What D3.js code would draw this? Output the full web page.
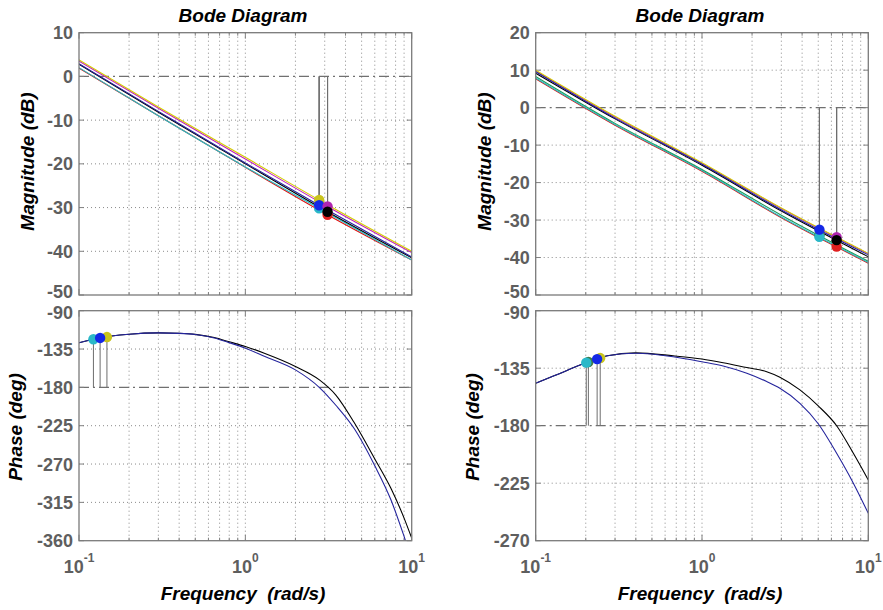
<!DOCTYPE html>
<html>
<head>
<meta charset="utf-8">
<script src="https://cdn.jsdelivr.net/npm/d3@7"></script>
<style>
  body { margin: 0; background: #fff; }
  svg { display: block; }
</style>
</head>
<body>
<svg id="chart" width="883" height="610"></svg>
<script>
// ---------- data: left system family ----------
const magFreqL = [0.1, 0.3, 1, 3, 10];
const magYellowL  = [3.8, -7.0, -18.5, -29.0, -40.0];
const magMagentaL = [3.5, -7.3, -18.9, -29.4, -40.3];
const magBlackL   = [2.8, -8.2, -20.0, -30.6, -41.5];
const magBlueL    = [2.9, -8.0, -19.8, -30.2, -41.3];
const magRedL     = [1.9, -9.0, -20.8, -31.3, -42.0];
const magCyanL    = [2.0, -9.0, -20.7, -30.9, -42.0];

const phaseFreqL  = [0.1, 0.13, 0.2, 0.3, 0.4, 0.5, 0.65, 0.8, 1, 1.3, 2, 2.8, 3.5, 4.5, 6, 7.5, 9, 10];
const phaseBlueL  = [-127.6, -122.3, -117.6, -116.0, -116.6, -118.0, -122.0, -127.5, -134.0, -143.5, -159.5, -180.5, -201, -228, -272, -312, -355, -382];
const phaseBlackL = [-127.6, -122.3, -117.6, -116.0, -116.5, -117.8, -121.5, -126.5, -132.0, -140.0, -155.5, -171.5, -189, -221, -264, -298.5, -333.5, -357];

// ---------- data: right system family ----------
const magFreqR = [0.1, 0.3, 1, 3, 10];
const magYellowR  = [10.0, -2.3, -14.7, -26.8, -38.9];
const magMagentaR = [9.8, -2.5, -14.9, -26.9, -39.0];
const magBlueR    = [9.6, -2.8, -15.1, -27.3, -39.3];
const magBlackR   = [9.2, -3.0, -15.4, -27.6, -39.8];
const magGreenR   = [8.3, -4.2, -16.5, -28.7, -41.0];
const magCyanR    = [7.9, -4.5, -16.8, -29.2, -41.3];
const magRedR     = [7.7, -4.7, -17.0, -29.4, -41.5];

const phaseFreqR  = [0.1, 0.13, 0.2, 0.27, 0.4, 0.67, 1, 1.34, 1.86, 2.45, 2.94, 3.88, 5, 6.45, 8.13, 10];
const phaseBlueR  = [-146.8, -140.8, -130.8, -125.2, -123.3, -126.0, -130.0, -133.3, -139.0, -145.5, -150.7, -162.5, -178.5, -201.6, -225.0, -248.6];
const phaseBlackR = [-146.8, -140.8, -130.8, -125.2, -123.0, -125.3, -127.8, -130.7, -134.5, -137.7, -142.0, -152.0, -164.5, -180.0, -201.6, -222.5];

// ---------- tick labels ----------
const magTicksL   = [10, 0, -10, -20, -30, -40, -50];
const phaseTicksL = [-90, -135, -180, -225, -270, -315, -360];
const magTicksR   = [20, 10, 0, -10, -20, -30, -40, -50];
const phaseTicksR = [-90, -135, -180, -225, -270];
const freqTicks   = [0.1, 1, 10];
const freqExpLabels = ["-1", "0", "1"];

const titleText = "Bode Diagram";
const magLabel = "Magnitude (dB)";
const phaseLabel = "Phase (deg)";
const freqLabel = "Frequency  (rad/s)";

// ---------- colours ----------
const lineColor = {
  yellow: "#d4cc00", magenta: "#c020c0", black: "#000000", blue: "#24249c",
  red: "#e01010", cyan: "#22c0c8", green: "#1e9a60"
};
const dotColor = {
  yellow: "#c9c41c", magenta: "#b025b0", black: "#000000", blue: "#1428e6",
  red: "#e02020", cyan: "#2ab8c8", green: "#3c7a4a"
};

// ---------- helpers ----------
function interpLog(freqs, vals, f) {
  const lf = Math.log10(f);
  for (let i = 0; i < freqs.length - 1; i++) {
    const a = Math.log10(freqs[i]), b = Math.log10(freqs[i + 1]);
    if (lf >= a && lf <= b) {
      const t = (lf - a) / (b - a);
      return vals[i] + t * (vals[i + 1] - vals[i]);
    }
  }
  return vals[vals.length - 1];
}
function crossing(freqs, vals, level) {
  for (let i = 0; i < freqs.length - 1; i++) {
    const u = vals[i] - level, v = vals[i + 1] - level;
    if (u === 0) return freqs[i];
    if (u * v < 0) {
      const a = Math.log10(freqs[i]), b = Math.log10(freqs[i + 1]);
      return Math.pow(10, a + (u / (u - v)) * (b - a));
    }
  }
  return null;
}
const zip = (fs, vs) => fs.map((f, i) => ({ f, v: vs[i] }));

// ---------- panel definitions ----------
const panels = [
  {
    x0: 79, x1: 411.7, cx: 243,
    magDomain: [-50, 10], magTicks: magTicksL,
    phaseDomain: [-360, -90], phaseTicks: phaseTicksL,
    magLabelX: 34, phaseLabelX: 22,
    magFreq: magFreqL,
    mags: [
      { c: "red", v: magRedL }, { c: "cyan", v: magCyanL },
      { c: "magenta", v: magMagentaL }, { c: "yellow", v: magYellowL },
      { c: "black", v: magBlackL }, { c: "blue", v: magBlueL }
    ],
    phaseFreq: phaseFreqL,
    phases: [ { c: "black", v: phaseBlackL }, { c: "blue", v: phaseBlueL } ],
    // gain-margin markers: [system, phase curve that sets the crossover]
    gm: [ ["yellow", "blue"], ["cyan", "blue"], ["blue", "blue"],
          ["magenta", "black"], ["red", "black"], ["black", "black"] ],
    // phase-margin markers, placed on the blue phase curve
    pm: ["cyan", "yellow", "blue"]
  },
  {
    x0: 535.7, x1: 868.3, cx: 700,
    magDomain: [-50, 20], magTicks: magTicksR,
    phaseDomain: [-270, -90], phaseTicks: phaseTicksR,
    magLabelX: 491, phaseLabelX: 479,
    magFreq: magFreqR,
    mags: [
      { c: "red", v: magRedR }, { c: "cyan", v: magCyanR },
      { c: "green", v: magGreenR }, { c: "magenta", v: magMagentaR },
      { c: "yellow", v: magYellowR }, { c: "black", v: magBlackR },
      { c: "blue", v: magBlueR }
    ],
    phaseFreq: phaseFreqR,
    phases: [ { c: "black", v: phaseBlackR }, { c: "blue", v: phaseBlueR } ],
    gm: [ ["green", "blue"], ["cyan", "blue"], ["blue", "blue"],
          ["magenta", "black"], ["red", "black"], ["black", "black"] ],
    pm: ["green", "cyan", "yellow", "blue"]
  }
];

const MAG_TOP = 32.7, MAG_BOT = 295, PH_TOP = 310.7, PH_BOT = 540.7;
const FONT = "'Liberation Sans', Arial, Helvetica, sans-serif";
const svg = d3.select("#chart");
const minorFreqs = [];
[0.1, 1].forEach(d => { for (let k = 2; k <= 9; k++) minorFreqs.push(+(d * k).toFixed(3)); });

let clipId = 0;
// labelShift(t) lets the two stacked axes keep their shared corner labels apart
function drawAxes(g, x, y, ticks, refLevel, x0, x1, top, bot, labelShift) {
  // white plotting area
  g.append("rect").attr("x", x0).attr("y", top).attr("width", x1 - x0).attr("height", bot - top)
    .attr("fill", "#fff");
  // dotted grid
  const grid = g.append("g").attr("stroke", "#8a8a8a").attr("stroke-width", 1)
    .attr("stroke-dasharray", "1,3").attr("fill", "none");
  minorFreqs.concat([1]).forEach(f => {
    grid.append("line").attr("x1", x(f)).attr("x2", x(f)).attr("y1", top).attr("y2", bot);
  });
  ticks.forEach(t => {
    if (y(t) <= top + 0.5 || y(t) >= bot - 0.5 || t === refLevel) return;
    grid.append("line").attr("x1", x0).attr("x2", x1).attr("y1", y(t)).attr("y2", y(t));
  });
  // reference level (0 dB / -180 deg)
  g.append("line").attr("x1", x0).attr("x2", x1).attr("y1", y(refLevel)).attr("y2", y(refLevel))
    .attr("stroke", "#707070").attr("stroke-width", 1.2).attr("stroke-dasharray", "10,4,2,4");
  // inward ticks
  const tk = g.append("g").attr("stroke", "#808080").attr("stroke-width", 1);
  freqTicks.concat(minorFreqs).forEach(f => {
    const len = freqTicks.includes(f) ? 6 : 3;
    tk.append("line").attr("x1", x(f)).attr("x2", x(f)).attr("y1", bot).attr("y2", bot - len);
    tk.append("line").attr("x1", x(f)).attr("x2", x(f)).attr("y1", top).attr("y2", top + len);
  });
  ticks.forEach(t => {
    tk.append("line").attr("x1", x0).attr("x2", x0 + 5).attr("y1", y(t)).attr("y2", y(t));
    tk.append("line").attr("x1", x1).attr("x2", x1 - 5).attr("y1", y(t)).attr("y2", y(t));
  });
  // y tick labels
  g.append("g").selectAll("text").data(ticks).join("text")
    .attr("x", x0 - 6).attr("y", d => y(d) + labelShift(d)).attr("dy", "0.36em")
    .attr("text-anchor", "end").attr("font-family", FONT).attr("font-size", 18)
    .attr("font-weight", "bold").attr("fill", "#5e5e5e")
    .text(d => String(d));
  // clip path for curves
  const id = "clip" + (clipId++);
  g.append("clipPath").attr("id", id).append("rect")
    .attr("x", x0).attr("y", top).attr("width", x1 - x0).attr("height", bot - top);
  return id;
}

function drawBox(g, x0, x1, top, bot) {
  g.append("rect").attr("x", x0).attr("y", top).attr("width", x1 - x0).attr("height", bot - top)
    .attr("fill", "none").attr("stroke", "#7a7a7a").attr("stroke-width", 1.3);
}

panels.forEach(p => {
  const g = svg.append("g");
  const x = d3.scaleLog().domain([0.1, 10]).range([p.x0, p.x1]);
  const yM = d3.scaleLinear().domain(p.magDomain).range([MAG_BOT, MAG_TOP]);
  const yP = d3.scaleLinear().domain(p.phaseDomain).range([PH_BOT, PH_TOP]);

  // ---- magnitude axes ----
  const gM = g.append("g");
  const magBottom = p.magDomain[0];
  const clipM = drawAxes(gM, x, yM, p.magTicks, 0, p.x0, p.x1, MAG_TOP, MAG_BOT,
    t => (t === magBottom ? -3 : 0));
  const lineM = d3.line().x(d => x(d.f)).y(d => yM(d.v)).curve(d3.curveMonotoneX);
  const curvesM = gM.append("g").attr("clip-path", `url(#${clipM})`);
  p.mags.forEach(s => {
    curvesM.append("path").datum(zip(p.magFreq, s.v)).attr("d", lineM)
      .attr("fill", "none").attr("stroke", lineColor[s.c]).attr("stroke-width", 1.1);
  });
  // gain-margin stems and markers
  const phaseOf = c => p.phases.find(s => s.c === c).v;
  const gmPts = p.gm.map(([sys, ph]) => {
    const f = crossing(p.phaseFreq, phaseOf(ph), -180);
    const magSeries = p.mags.find(s => s.c === sys).v;
    return { sys, f, v: interpLog(p.magFreq, magSeries, f) };
  });
  gmPts.forEach(d => {
    curvesM.append("line").attr("x1", x(d.f)).attr("x2", x(d.f))
      .attr("y1", yM(0)).attr("y2", yM(d.v))
      .attr("stroke", "#6e6e6e").attr("stroke-width", 1);
  });
  gmPts.forEach(d => {
    gM.append("circle").attr("cx", x(d.f)).attr("cy", yM(d.v)).attr("r", 5.2)
      .attr("fill", dotColor[d.sys]);
  });
  drawBox(gM, p.x0, p.x1, MAG_TOP, MAG_BOT);

  // ---- phase axes ----
  const gP = g.append("g");
  const phaseTop = p.phaseDomain[1];
  const clipP = drawAxes(gP, x, yP, p.phaseTicks, -180, p.x0, p.x1, PH_TOP, PH_BOT,
    t => (t === phaseTop ? 2 : 0));
  const lineP = d3.line().x(d => x(d.f)).y(d => yP(d.v)).curve(d3.curveMonotoneX);
  const curvesP = gP.append("g").attr("clip-path", `url(#${clipP})`);
  p.phases.forEach(s => {
    curvesP.append("path").datum(zip(p.phaseFreq, s.v)).attr("d", lineP)
      .attr("fill", "none").attr("stroke", lineColor[s.c]).attr("stroke-width", 1.1);
  });
  const pmPts = p.pm.map(sys => {
    const f = crossing(p.magFreq, p.mags.find(s => s.c === sys).v, 0);
    return { sys, f, v: interpLog(p.phaseFreq, phaseOf("blue"), f) };
  });
  pmPts.forEach(d => {
    curvesP.append("line").attr("x1", x(d.f)).attr("x2", x(d.f))
      .attr("y1", yP(-180)).attr("y2", yP(d.v))
      .attr("stroke", "#6e6e6e").attr("stroke-width", 1);
  });
  pmPts.forEach(d => {
    gP.append("circle").attr("cx", x(d.f)).attr("cy", yP(d.v)).attr("r", 5.2)
      .attr("fill", dotColor[d.sys]);
  });
  drawBox(gP, p.x0, p.x1, PH_TOP, PH_BOT);

  // frequency tick labels (10^n)
  freqTicks.forEach((f, i) => {
    const t = g.append("text").attr("x", x(f)).attr("y", 573)
      .attr("text-anchor", "middle").attr("font-family", FONT)
      .attr("font-weight", "bold").attr("fill", "#5e5e5e").attr("font-size", 18);
    t.append("tspan").text("10");
    t.append("tspan").attr("dy", -11).attr("font-size", 12).text(freqExpLabels[i]);
  });

  // titles and axis labels
  g.append("text").attr("x", p.cx).attr("y", 22).attr("text-anchor", "middle")
    .attr("font-family", FONT).attr("font-size", 19).attr("font-weight", "bold")
    .attr("font-style", "italic").attr("fill", "#000").text(titleText);
  g.append("text").attr("x", p.cx).attr("y", 600).attr("text-anchor", "middle")
    .attr("font-family", FONT).attr("font-size", 19).attr("font-weight", "bold")
    .attr("font-style", "italic").attr("fill", "#000").attr("xml:space", "preserve")
    .style("white-space", "pre").text(freqLabel);
  g.append("text").attr("transform", `translate(${p.magLabelX},161.5) rotate(-90)`)
    .attr("text-anchor", "middle").attr("font-family", FONT).attr("font-size", 19)
    .attr("font-weight", "bold").attr("font-style", "italic").attr("fill", "#000").text(magLabel);
  g.append("text").attr("transform", `translate(${p.phaseLabelX},427) rotate(-90)`)
    .attr("text-anchor", "middle").attr("font-family", FONT).attr("font-size", 19)
    .attr("font-weight", "bold").attr("font-style", "italic").attr("fill", "#000").text(phaseLabel);
});
</script>
</body>
</html>
